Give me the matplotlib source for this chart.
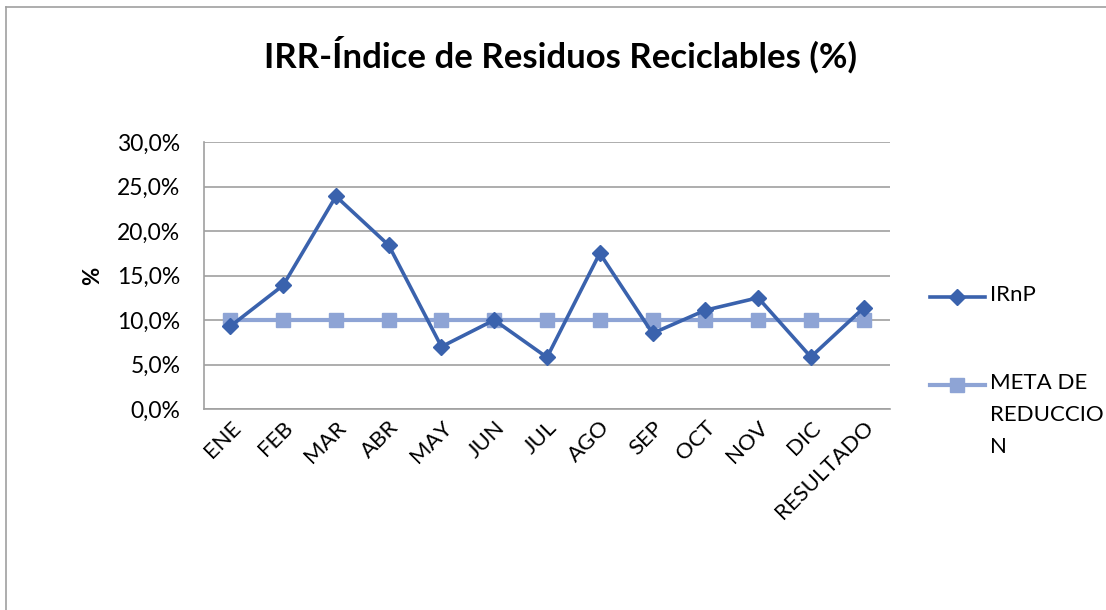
import numpy as np
import matplotlib
matplotlib.use("Agg")
import matplotlib.pyplot as plt
from matplotlib.lines import Line2D
from matplotlib.ticker import FuncFormatter

# data
months = ["ENE", "FEB", "MAR", "ABR", "MAY", "JUN", "JUL", "AGO", "SEP",
          "OCT", "NOV", "DIC", "RESULTADO"]
irnp = [9.3, 13.9, 23.9, 18.4, 7.0, 10.0, 5.8, 17.5, 8.5, 11.1, 12.5, 5.85, 11.35]
meta = [10.0] * len(months)
yticks = [0, 5, 10, 15, 20, 25, 30]
series_names = ["IRnP", "META DE\nREDUCCIO\nN"]

plt.rcParams['font.family'] = ['Lato', 'DejaVu Sans']

W, H = 1106, 610
fig = plt.figure(figsize=(W/100, H/100), dpi=100, facecolor='w')
ax = fig.add_axes([204/W, 1-409/H, 686/W, 267/H])

x = np.arange(len(months))
c_irnp = '#3A62AD'
c_meta = '#8EA4D5'

ax.plot(x, meta, color=c_meta, lw=3, marker='s', ms=10, mec=c_meta, zorder=3)
ax.plot(x, irnp, color=c_irnp, lw=2.6, marker='D', ms=8, mec=c_irnp, zorder=4)

ax.set_xlim(-0.5, len(months) - 0.5)
ax.set_ylim(0, 30)
ax.set_yticks(yticks)
ax.yaxis.set_major_formatter(FuncFormatter(lambda v, p: ("%.1f%%" % v).replace('.', ',')))
ax.grid(axis='y', color='#A0A0A0', lw=1.2)
ax.set_axisbelow(True)
for s in ['top', 'right']:
    ax.spines[s].set_visible(False)
for s in ['left', 'bottom']:
    ax.spines[s].set_color('#A0A0A0')
    ax.spines[s].set_linewidth(1.2)
ax.tick_params(axis='y', length=0, labelsize=16.5, pad=17)
ax.set_xticks(x)
ax.set_xticklabels(months, rotation=45, ha='right', rotation_mode='anchor')
ax.tick_params(axis='x', length=0, labelsize=16, pad=6)
ax.set_ylabel('%', fontsize=16, fontweight='bold', labelpad=10)

fig.text(560/W, 1-55/H, 'IRR-Índice de Residuos Reciclables (%)',
         ha='center', va='center', fontsize=25, fontweight='bold')

# legend drawn by hand so the marker sits on the first text line
leg_items = [(297, c_irnp, 2.6, 'D', 8), (385, c_meta, 3, 's', 10)]
for (ly, col, lw, mk, ms), name in zip(leg_items, series_names):
    yy = 1 - ly/H
    fig.add_artist(Line2D([930/W, 985/W], [yy, yy], color=col, lw=lw))
    fig.add_artist(Line2D([957/W], [yy], color=col, marker=mk, ms=ms, mec=col))
    fig.text(990/W, yy + 12/H, name, ha='left', va='top', fontsize=16,
             linespacing=1.75)

# chart outer border (left and top visible)
fig.add_artist(Line2D([6/W, 6/W], [0, 1-7/H], color='#A0A0A0', lw=1.2))
fig.add_artist(Line2D([6/W, 1], [1-7/H, 1-7/H], color='#A0A0A0', lw=1.2))

fig.savefig('out.png', dpi=100, facecolor='w')
